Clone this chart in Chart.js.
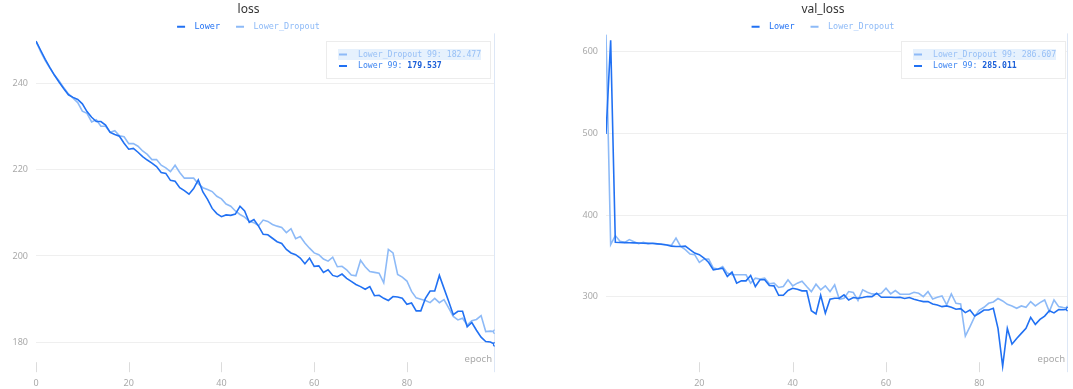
<!DOCTYPE html>
<html>
<head>
<meta charset="utf-8">
<title>loss / val_loss</title>
<script src="https://cdn.jsdelivr.net/npm/chart.js@4.4.1/dist/chart.umd.min.js"></script>
<style>
  html, body { margin: 0; padding: 0; background: #fff; }
  body { width: 1073px; height: 389px; position: relative; overflow: hidden; }
  canvas { position: absolute; top: 0; }
  #loss-chart { left: 0; }
  #val-loss-chart { left: 573px; }
</style>
</head>
<body>
<canvas id="loss-chart" width="500" height="389"></canvas>
<canvas id="val-loss-chart" width="500" height="389"></canvas>
<script>
// Training curves: loss and val_loss per epoch, Lower vs Lower_Dropout

const epochs = Array.from({ length: 100 }, (_, i) => i);

const lossLower = [
  249.7, 247.6, 245.5, 243.6, 241.8, 240.2, 238.7, 237.3, 236.7, 236.2,
  235.2, 233.4, 232.1, 231.1, 231.1, 230.3, 228.6, 228.1, 227.7, 226.1,
  224.7, 224.9, 224.0, 223.0, 222.2, 221.5, 220.7, 219.3, 219.1, 217.5,
  217.3, 215.8, 215.1, 214.3, 215.6, 217.6, 214.8, 213.1, 211.0, 209.8,
  209.1, 209.5, 209.4, 209.7, 211.5, 210.4, 207.8, 208.4, 206.9, 205.0,
  204.9, 204.1, 203.3, 202.9, 201.5, 200.7, 200.3, 199.5, 198.2, 199.5,
  197.6, 197.7, 196.2, 196.8, 195.5, 195.2, 195.8, 194.8, 194.1, 193.4,
  192.9, 192.3, 192.9, 190.8, 190.9, 190.2, 189.7, 190.6, 190.5, 190.2,
  188.8, 189.1, 187.3, 187.3, 190.2, 191.9, 191.9, 195.5, 192.5, 189.5,
  186.4, 187.2, 187.2, 183.6, 184.6, 182.8, 181.2, 180.2, 180.1, 179.537
];

const lossLowerDropout = [
  249.7, 247.3, 245.2, 243.5, 241.8, 240.5, 238.9, 237.5, 236.5, 235.5,
  233.5, 233.0, 231.0, 231.5, 230.0, 230.0, 228.6, 229.0, 227.8, 227.6,
  226.0, 226.0, 225.4, 224.3, 223.5, 222.3, 222.3, 221.0, 220.4, 219.5,
  221.0, 219.3, 218.0, 218.0, 218.0, 216.7, 215.8, 215.4, 214.9, 213.8,
  213.2, 212.0, 211.5, 210.4, 209.6, 209.0, 208.0, 207.7, 207.0, 208.3,
  208.0, 207.3, 206.9, 206.6, 205.4, 206.3, 204.0, 204.5, 203.0, 201.8,
  200.7, 200.3, 199.3, 198.8, 199.7, 197.5, 197.6, 196.8, 195.6, 195.4,
  199.0, 197.5, 196.4, 196.2, 196.0, 193.8, 201.5, 200.7, 195.7, 195.1,
  194.2, 191.8, 190.3, 190.0, 189.7, 189.2, 190.2, 189.2, 189.9, 188.0,
  186.0, 185.2, 185.6, 184.0, 185.0, 185.3, 186.2, 182.5, 182.6, 182.477
];

const valLossLower = [
  499.0, 613.5, 366.7, 366.5, 366.3, 366.2, 366.0, 365.8, 365.6, 365.4,
  365.2, 364.8, 364.3, 363.4, 362.0, 361.6, 361.6, 362.0, 357.7, 353.6,
  351.6, 347.5, 342.1, 333.1, 334.0, 335.2, 325.0, 330.3, 316.8, 319.6,
  319.6, 326.2, 312.7, 320.9, 320.9, 313.9, 313.5, 302.0, 302.0, 307.8,
  310.6, 309.4, 307.4, 307.4, 283.2, 279.1, 302.0, 280.0, 297.1, 298.4,
  298.4, 302.5, 296.3, 299.2, 298.4, 299.2, 300.4, 300.4, 304.5, 299.6,
  299.6, 299.6, 299.2, 299.6, 298.0, 299.2, 297.1, 295.5, 294.3, 294.3,
  291.4, 290.2, 288.1, 289.0, 287.3, 284.9, 285.7, 280.8, 284.0, 276.7,
  280.0, 284.0, 284.0, 286.1, 261.5, 215.3, 261.5, 242.3, 249.3, 255.4,
  261.5, 275.0, 266.4, 272.5, 276.5, 283.0, 280.5, 284.5, 284.3, 285.011
];

const valLossLowerDropout = [
  620.5, 363.8, 374.9, 367.9, 366.7, 370.0, 367.5, 365.0, 366.7, 365.0,
  365.9, 365.0, 364.2, 363.8, 363.0, 372.0, 361.8, 357.7, 352.4, 351.6,
  342.1, 346.2, 346.2, 335.2, 334.0, 337.2, 329.1, 327.0, 327.0, 327.0,
  327.0, 316.8, 322.9, 321.7, 322.9, 316.0, 316.8, 311.5, 312.7, 320.9,
  313.5, 316.8, 319.2, 312.7, 306.5, 315.5, 308.6, 313.5, 306.5, 314.7,
  297.1, 298.4, 306.5, 305.3, 295.5, 308.6, 305.7, 303.7, 303.3, 304.5,
  310.6, 303.7, 307.8, 303.3, 303.3, 303.3, 305.7, 304.5, 300.4, 306.5,
  297.5, 299.6, 301.2, 290.2, 303.7, 292.2, 291.4, 252.1, 263.6, 275.9,
  284.0, 287.3, 292.2, 293.9, 298.0, 295.1, 291.0, 289.0, 286.1, 289.0,
  287.3, 294.3, 289.0, 293.0, 296.3, 282.0, 296.3, 288.1, 286.9, 286.607
];

const lossTicks = [180, 200, 220, 240];
const valLossTicks = [300, 400, 500, 600];
const lossEpochTicks = [0, 20, 40, 60, 80];
const valLossEpochTicks = [20, 40, 60, 80];

const COLORS = {
  lower: '#2171f3',
  dropout: '#8dbaf7',
  lowerText: '#3f86f1',
  lowerValue: '#1b5fd8',
  dropoutText: '#98c0f6',
  highlight: '#e6f1fd',
  grid: '#efefef',
  tick: '#a9a9a9',
  guide: '#dde7f6'
};

const MONO = '"DejaVu Sans Mono", "Liberation Mono", monospace';
const SANS = '"Noto Sans", "Open Sans", sans-serif';

// vertical guide at the hovered epoch
const guideLine = {
  id: 'guideLine',
  beforeDatasetsDraw(chart, args, opts) {
    const { ctx, chartArea } = chart;
    const x = chart.scales.x.getPixelForValue(opts.epoch);
    ctx.save();
    ctx.strokeStyle = COLORS.guide;
    ctx.lineWidth = 1;
    ctx.beginPath();
    ctx.moveTo(Math.round(x) - 0.5, chartArea.top);
    ctx.lineTo(Math.round(x) - 0.5, chartArea.bottom);
    ctx.stroke();
    ctx.restore();
  }
};

// short tick marks just above the x labels + the "epoch" caption
const epochAxis = {
  id: 'epochAxis',
  afterDraw(chart) {
    const { ctx, chartArea } = chart;
    const xScale = chart.scales.x;
    ctx.save();
    ctx.strokeStyle = '#dcdcdc';
    ctx.lineWidth = 1;
    xScale.ticks.forEach(t => {
      const x = Math.round(xScale.getPixelForValue(t.value)) + 0.5;
      ctx.beginPath();
      ctx.moveTo(x, chartArea.bottom - 10);
      ctx.lineTo(x, chartArea.bottom);
      ctx.stroke();
    });
    ctx.fillStyle = COLORS.tick;
    ctx.font = '9.5px ' + SANS;
    ctx.textAlign = 'right';
    ctx.textBaseline = 'middle';
    ctx.fillText('epoch', chartArea.right - 3, chartArea.bottom - 13);
    ctx.restore();
  }
};

// readout box with the values at the hovered epoch
const readout = {
  id: 'readout',
  afterDraw(chart, args, opts) {
    const { ctx, chartArea } = chart;
    const w = 165, h = 38;
    const x0 = Math.round(chartArea.right - opts.right - w);
    const y0 = Math.round(chartArea.top + 8);
    const [lower, dropout] = chart.data.datasets;
    const pick = ds => ds.data.find(p => p.x === opts.epoch).y;

    ctx.save();
    ctx.fillStyle = '#fff';
    ctx.fillRect(x0, y0, w, h);
    ctx.strokeStyle = '#ececec';
    ctx.lineWidth = 1;
    ctx.strokeRect(x0 + 0.5, y0 + 0.5, w - 1, h - 1);

    ctx.textBaseline = 'middle';
    ctx.textAlign = 'left';
    const font = '8.2px ' + MONO;

    // row 1: Lower_Dropout (highlighted)
    let cy = y0 + 13.5;
    ctx.fillStyle = COLORS.highlight;
    ctx.fillRect(x0 + 12, cy - 5.5, 143, 11);
    ctx.fillStyle = COLORS.dropout;
    ctx.fillRect(x0 + 13, cy - 1, 8, 2);
    ctx.font = font;
    ctx.fillStyle = COLORS.dropoutText;
    ctx.fillText(dropout.label + ' ' + opts.epoch + ': ' + pick(dropout).toFixed(3), x0 + 32, cy);

    // row 2: Lower
    cy = y0 + 25;
    ctx.fillStyle = COLORS.lower;
    ctx.fillRect(x0 + 13, cy - 1, 8, 2);
    const head = lower.label + ' ' + opts.epoch + ': ';
    ctx.font = font;
    ctx.fillStyle = COLORS.lowerText;
    ctx.fillText(head, x0 + 32, cy);
    const hw = ctx.measureText(head).width;
    ctx.font = 'bold ' + font;
    ctx.fillStyle = COLORS.lowerValue;
    ctx.fillText(pick(lower).toFixed(3), x0 + 32 + hw, cy);
    ctx.restore();
  }
};

function toPoints(values) {
  return values.map((y, i) => ({ x: epochs[i], y }));
}

function lineDataset(label, values, color) {
  const last = values.length - 1;
  return {
    label,
    data: toPoints(values),
    borderColor: color,
    backgroundColor: color,
    borderWidth: 1.6,
    tension: 0,
    fill: false,
    pointStyle: 'rect',
    pointRadius: ctx => (ctx.dataIndex === last ? 2.2 : 0),
    pointBackgroundColor: '#dbe8fc',
    pointBorderColor: color,
    pointBorderWidth: 1
  };
}

function buildChart(canvasId, cfg) {
  const setTicks = list => scale => { scale.ticks = list.map(v => ({ value: v })); };

  return new Chart(document.getElementById(canvasId), {
    type: 'line',
    data: {
      datasets: [
        lineDataset('Lower', cfg.lower, COLORS.lower),
        lineDataset('Lower_Dropout', cfg.dropout, COLORS.dropout)
      ]
    },
    options: {
      responsive: false,
      animation: false,
      events: [],
      layout: { padding: { top: 0, right: cfg.padRight, bottom: -6, left: 0 } },
      scales: {
        x: {
          type: 'linear',
          min: 0,
          max: 99,
          grid: { display: false, drawTicks: false },
          border: { display: false },
          afterBuildTicks: setTicks(cfg.xTicks),
          ticks: {
            color: COLORS.tick,
            font: { family: SANS, size: 9 },
            padding: 6,
            maxRotation: 0
          }
        },
        y: {
          type: 'linear',
          min: cfg.yMin,
          max: cfg.yMax,
          grid: { color: COLORS.grid, drawTicks: false },
          border: { display: false },
          afterBuildTicks: setTicks(cfg.yTicks),
          afterFit: scale => { scale.width = cfg.yWidth; },
          ticks: {
            color: COLORS.tick,
            font: { family: SANS, size: 9 },
            padding: 8
          }
        }
      },
      plugins: {
        title: {
          display: true,
          text: cfg.title,
          color: '#333',
          font: { family: SANS, size: 12, weight: 'normal' },
          padding: { top: 2, bottom: -10 }
        },
        legend: {
          maxHeight: 27,
          labels: {
            boxWidth: 8,
            boxHeight: 2,
            padding: 16,
            font: { family: MONO, size: 8.5 },
            generateLabels(chart) {
              return Chart.defaults.plugins.legend.labels.generateLabels(chart)
                .map(item => ({ ...item, text: ' ' + item.text, fontColor: item.strokeStyle, lineWidth: 0 }));
            }
          }
        },
        tooltip: { enabled: false },
        guideLine: { epoch: 99 },
        readout: { epoch: 99, right: cfg.boxRight }
      }
    },
    plugins: [guideLine, epochAxis, readout]
  });
}

buildChart('loss-chart', {
  title: 'loss',
  lower: lossLower,
  dropout: lossLowerDropout,
  yMin: 173.1,
  yMax: 251.5,
  yTicks: lossTicks,
  xTicks: lossEpochTicks,
  yWidth: 36,
  padRight: 3,
  boxRight: 4
});

buildChart('val-loss-chart', {
  title: 'val_loss',
  lower: valLossLower,
  dropout: valLossLowerDropout,
  yMin: 208,
  yMax: 622,
  yTicks: valLossTicks,
  xTicks: valLossEpochTicks,
  yWidth: 33,
  padRight: 0,
  boxRight: 2
});
</script>
</body>
</html>
